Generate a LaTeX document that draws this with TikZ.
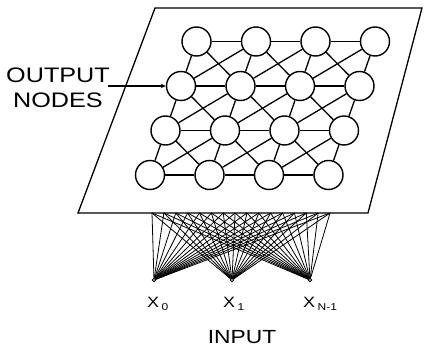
\documentclass[tikz,border=0pt]{standalone}
\usepackage{fontspec}
\usetikzlibrary{arrows.meta}
\newfontfamily\widefont[FakeStretch=1.2]{Liberation Sans}
\begin{document}
\begin{tikzpicture}[x=1pt,y=-1pt,
  plane/.style={draw, line width=1.3pt, line join=miter},
  unit/.style={circle, draw, fill=white, minimum size=29pt, inner sep=0pt, line width=1.4pt},
  link/.style={line width=1.3pt},
  fan/.style={line width=0.8pt},
  inpt/.style={circle, draw, fill=white, minimum size=3.5pt, inner sep=0pt, line width=0.8pt},
  lbl/.style={font=\widefont\fontsize{21}{25}\selectfont, align=center, inner sep=0pt},
  xlbl/.style={font=\widefont\fontsize{15}{15}\selectfont, inner sep=0pt, anchor=base west}
]
\useasboundingbox (0,0) rectangle (424,350);
% plane
\coordinate (p1) at (155,8);
\coordinate (p2) at (422,8);
\coordinate (p3) at (368,213);
\coordinate (p4) at (78,213);
\draw[plane] (p1) -- (p2) -- (p3) -- (p4) -- cycle;
% output nodes
\foreach \r in {0,...,3}{
  \foreach \c in {0,...,3}{
    \node[unit] (n-\r-\c) at ({196.5+59.5*\c-15.5*\r},{41.5+44.5*\r}) {};
  }
}
% links
\foreach \r in {0,...,3}{
  \foreach \c in {0,...,3}{
    \pgfmathtruncatemacro{\rn}{\r+1}
    \pgfmathtruncatemacro{\cn}{\c+1}
    \ifnum\c<3 \draw[link] (n-\r-\c) -- (n-\r-\cn); \fi
    \ifnum\r<3 \draw[link] (n-\r-\c) -- (n-\rn-\c); \fi
    \ifnum\r<3 \ifnum\c<3
      \draw[link] (n-\r-\c) -- (n-\rn-\cn);
      \draw[link] (n-\r-\cn) -- (n-\rn-\c);
    \fi\fi
  }
}
% fan endpoints on the plane edge
\foreach \k in {0,...,15}{
  \coordinate (b\k) at ({152+\k*11.87},213);
}
% inputs
\node[inpt] (in0) at (154,280) {};
\node[inpt] (in1) at (232,280) {};
\node[inpt] (in2) at (310,280) {};
\foreach \i in {0,1,2}{
  \foreach \k in {0,...,15}{
    \draw[fan] (in\i) -- (b\k);
  }
}
% labels
\node[lbl] (outlbl) at (58,88) {OUTPUT\\NODES};
\coordinate (arr) at (108,86);
\draw[link, -{Stealth[length=5pt,width=4.5pt]}] (arr) -- (n-1-0);
\node[xlbl] (x0) at (147,308) {X\,\raisebox{-3pt}{\fontsize{10}{10}\selectfont 0}};
\node[xlbl] (x1) at (223,308) {X\,\raisebox{-3pt}{\fontsize{10}{10}\selectfont 1}};
\node[xlbl] (x2) at (303,308) {X\,\raisebox{-3pt}{\fontsize{10}{10}\selectfont N-1}};
\node[font=\widefont\fontsize{19}{19}\selectfont, inner sep=0pt, anchor=base] (inlbl) at (242,344) {INPUT};
\end{tikzpicture}
\end{document}
